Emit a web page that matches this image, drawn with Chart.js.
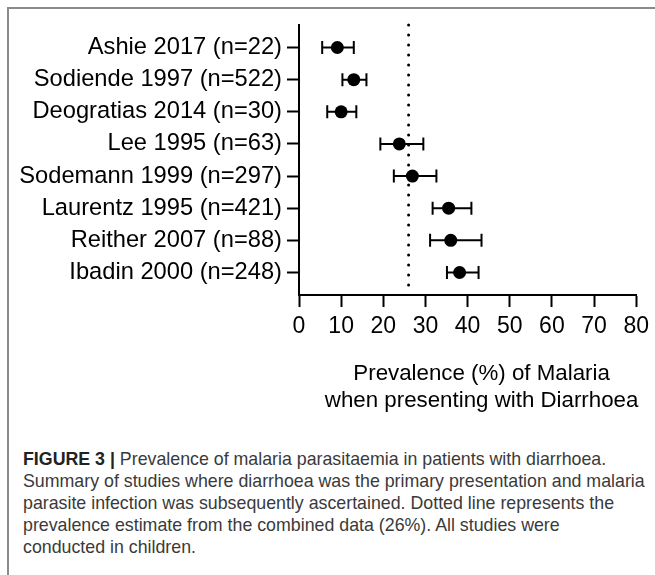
<!DOCTYPE html>
<html>
<head>
<meta charset="utf-8">
<script src="https://cdn.jsdelivr.net/npm/chart.js@4/dist/chart.umd.min.js"></script>
<style>
  html, body { margin: 0; padding: 0; background: #fff; }
  body { width: 655px; height: 575px; position: relative; overflow: hidden; }
  #frame {
    position: absolute; left: 7px; top: 7px; width: 660px; height: 580px;
    border-left: 2px solid #8a8a8a; border-top: 2px solid #8a8a8a;
    box-sizing: border-box; pointer-events: none;
  }
  #plot { position: absolute; left: 0; top: 0; }
  #caption {
    position: absolute; left: 23px; top: 448px;
    font-family: 'Liberation Sans', Arial, sans-serif;
    font-size: 17.8px; line-height: 22px; color: #3a3a3a;
  }
  #caption div { white-space: nowrap; }
  #caption b { color: #222; }
</style>
</head>
<body>
<div id="frame"></div>
<canvas id="plot" width="655" height="420"></canvas>
<div id="caption">
  <div><b>FIGURE 3 |</b> Prevalence of malaria parasitaemia in patients with diarrhoea.</div>
  <div>Summary of studies where diarrhoea was the primary presentation and malaria</div>
  <div>parasite infection was subsequently ascertained. Dotted line represents the</div>
  <div>prevalence estimate from the combined data (26%). All studies were</div>
  <div>conducted in children.</div>
</div>
<script>
// forest plot: malaria prevalence in diarrhoea studies

let studies = [
  "Ashie 2017 (n=22)",
  "Sodiende 1997 (n=522)",
  "Deogratias 2014 (n=30)",
  "Lee 1995 (n=63)",
  "Sodemann 1999 (n=297)",
  "Laurentz 1995 (n=421)",
  "Reither 2007 (n=88)",
  "Ibadin 2000 (n=248)"
];

let prevalence = [9.1, 13.0, 10.0, 23.8, 26.9, 35.5, 36.0, 38.1];
let lower      = [5.5, 10.3, 6.7, 19.3, 22.5, 31.7, 31.1, 35.1];
let upper      = [13.0, 16.0, 13.6, 29.5, 32.6, 40.9, 43.3, 42.6];

let pooled = 26;

let xMin = 0, xMax = 80, xStep = 10;

let axisTitle = ["Prevalence (%) of Malaria", "when presenting with Diarrhoea"];


let FONT = "'Liberation Sans', Arial, sans-serif";

Chart.defaults.font.family = FONT;
Chart.defaults.font.size = 23;
Chart.defaults.color = "#000";


// error bars, drawn under the dots
let errorBars = {
  id: "errorBars",
  beforeDatasetsDraw(chart){
    let ctx = chart.ctx;
    let xs = chart.scales.x, ys = chart.scales.y;
    ctx.save();
    ctx.strokeStyle = "#000";
    ctx.lineWidth = 2;
    studies.forEach((s, i) => {
      let y = ys.getPixelForValue(i + 1);
      let x1 = xs.getPixelForValue(lower[i]);
      let x2 = xs.getPixelForValue(upper[i]);
      ctx.beginPath();
      ctx.moveTo(x1, y); ctx.lineTo(x2, y);
      ctx.moveTo(x1, y - 6.5); ctx.lineTo(x1, y + 6.5);
      ctx.moveTo(x2, y - 6.5); ctx.lineTo(x2, y + 6.5);
      ctx.stroke();
    });
    ctx.restore();
  }
};

// two-line axis title, set a little right of the axis centre like the figure
let xTitle = {
  id: "xTitle",
  afterDraw(chart){
    let ctx = chart.ctx;
    let a = chart.chartArea;
    let cx = (a.left + a.right) / 2 + 14;
    ctx.save();
    ctx.font = "22.3px " + FONT;
    ctx.fillStyle = "#000";
    ctx.textAlign = "center";
    ctx.textBaseline = "alphabetic";
    ctx.fillText(axisTitle[0], cx, a.bottom + 85);
    ctx.fillText(axisTitle[1], cx, a.bottom + 112);
    ctx.restore();
  }
};


new Chart(document.getElementById("plot"), {
  type: "scatter",
  data: {
    datasets: [
      {
        label: "Pooled",
        type: "line",
        data: [{x: pooled, y: 0.3}, {x: pooled, y: 8.7}],
        borderColor: "#000",
        borderWidth: 3,
        borderDash: [0, 10],
        borderCapStyle: "round",
        pointRadius: 0,
        clip: false,
        order: 2
      },
      {
        label: "Prevalence",
        data: prevalence.map((v, i) => ({x: v, y: i + 1})),
        pointRadius: 6.5,
        pointHoverRadius: 6.5,
        backgroundColor: "#000",
        borderWidth: 0,
        order: 1
      }
    ]
  },
  options: {
    responsive: false,
    animation: false,
    devicePixelRatio: 1,
    layout: { padding: { left: 0, top: 25, right: 18, bottom: 0 } },
    plugins: { legend: { display: false }, tooltip: { enabled: false } },
    scales: {
      x: {
        type: "linear",
        min: xMin, max: xMax,
        ticks: { stepSize: xStep, padding: 6, color: "#000" },
        grid: { drawOnChartArea: false, tickLength: 12, tickColor: "#000", tickWidth: 2 },
        border: { color: "#000", width: 2 },
        afterFit(scale){ scale.height = 125; }
      },
      y: {
        type: "linear",
        reverse: true,
        min: 0.3, max: 8.7,
        afterBuildTicks(scale){
          scale.ticks = studies.map((s, i) => ({value: i + 1}));
        },
        ticks: {
          padding: 5,
          color: "#000",
          font: { size: 23.7 },
          callback: (v) => studies[v - 1]
        },
        grid: { drawOnChartArea: false, tickLength: 12, tickColor: "#000", tickWidth: 2 },
        border: { color: "#000", width: 2 },
        afterFit(scale){ scale.width = 299; }
      }
    }
  },
  plugins: [errorBars, xTitle]
});
</script>
</body>
</html>
